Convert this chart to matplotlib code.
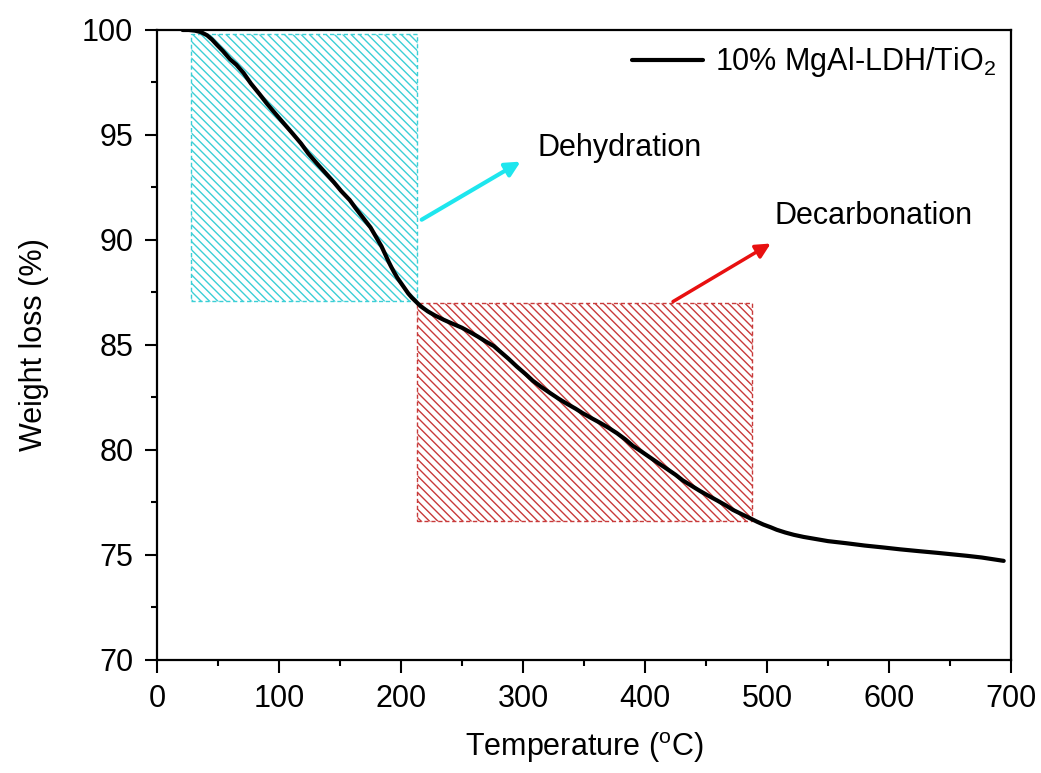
import matplotlib
matplotlib.use("Agg")
import matplotlib.pyplot as plt
from matplotlib.patches import Rectangle
from matplotlib.ticker import MultipleLocator

plt.rcParams["font.family"] = ["Liberation Sans", "DejaVu Sans"]
plt.rcParams["mathtext.default"] = "regular"
plt.rcParams["hatch.linewidth"] = 1.0

# TGA trace, 10% MgAl-LDH/TiO2
temp = [21, 26, 31, 36, 41, 45, 49, 54, 60, 65, 71, 77, 84, 90, 97, 104, 111, 118,
        124, 131, 138, 145, 151, 158, 163, 167, 171, 175, 178, 181, 184, 186, 188,
        190, 192, 194, 197, 200, 203, 206, 209, 212, 216, 222, 228, 235, 242, 250,
        257, 263, 269, 276, 282, 288, 295, 302, 308, 315, 322, 329, 336, 343, 349,
        356, 363, 370, 377, 384, 390, 397, 404, 411, 418, 425, 431, 438, 445, 452,
        459, 466, 472, 479, 486, 492, 497, 503, 508, 515, 522, 530, 540, 550, 565,
        580, 595, 609, 625, 640, 652, 664, 676, 685, 694]
weight = [100.0, 100.0, 99.97, 99.9, 99.75, 99.55, 99.3, 99.0, 98.6, 98.35, 97.95,
          97.45, 96.95, 96.5, 96.02, 95.55, 95.08, 94.6, 94.12, 93.65, 93.2, 92.75,
          92.33, 91.9, 91.5, 91.2, 90.9, 90.6, 90.3, 90.0, 89.7, 89.45, 89.2, 88.95,
          88.72, 88.5, 88.2, 87.95, 87.7, 87.45, 87.25, 87.08, 86.85, 86.6, 86.4,
          86.2, 86.02, 85.82, 85.6, 85.4, 85.18, 84.95, 84.65, 84.35, 83.97, 83.62,
          83.3, 83.0, 82.72, 82.45, 82.2, 81.97, 81.75, 81.52, 81.3, 81.06, 80.8,
          80.5, 80.2, 79.93, 79.65, 79.37, 79.1, 78.82, 78.55, 78.3, 78.05, 77.82,
          77.6, 77.37, 77.15, 76.95, 76.75, 76.58, 76.45, 76.32, 76.2, 76.07, 75.96,
          75.86, 75.76, 75.66, 75.56, 75.45, 75.36, 75.27, 75.18, 75.1, 75.03, 74.96,
          74.88, 74.8, 74.72]

# stage windows: (T start, T end, wt low, wt high)
dehyd = (28, 213, 87.1, 99.8)
decarb = (213, 488, 76.6, 87.0)

fig = plt.figure(figsize=(10.41, 7.73), dpi=100)
ax = fig.add_axes([0.1508, 0.1462, 0.8204, 0.815])

for (t0, t1, w0, w1), col in ((dehyd, "#3ccfd6"), (decarb, "#c83a3a")):
    ax.add_patch(Rectangle((t0, w0), t1 - t0, w1 - w0, facecolor="none",
                           edgecolor=col, hatch="\\\\\\\\", lw=1.0, ls=(0, (3, 2)), zorder=1))

ax.plot(temp, weight, color="black", lw=3.0, zorder=3, solid_capstyle="round",
        label="10% MgAl-LDH/TiO$_2$")

ax.annotate("", xy=(300, 93.8), xytext=(215, 90.9),
            arrowprops=dict(arrowstyle="-|>", color="#1ee6ee", lw=3, mutation_scale=22))
ax.annotate("", xy=(505, 89.9), xytext=(421, 87.0),
            arrowprops=dict(arrowstyle="-|>", color="#e81010", lw=2.5, mutation_scale=22))
ax.text(312, 94.4, "Dehydration", fontsize=22, va="center")
ax.text(506, 91.15, "Decarbonation", fontsize=22, va="center")

ax.set_xlim(0, 700)
ax.set_ylim(70, 100)
ax.xaxis.set_major_locator(MultipleLocator(100))
ax.xaxis.set_minor_locator(MultipleLocator(50))
ax.yaxis.set_major_locator(MultipleLocator(5))
ax.yaxis.set_minor_locator(MultipleLocator(2.5))
ax.tick_params(which="major", direction="out", length=9, width=1.5, labelsize=22, pad=8)
ax.tick_params(which="minor", direction="out", length=4, width=1.5)
for s in ax.spines.values():
    s.set_linewidth(1.6)

ax.set_xlabel("Temperature ($^{o}$C)", fontsize=22, labelpad=12)
ax.set_ylabel("Weight loss (%)", fontsize=22, labelpad=24)

ax.legend(loc="upper right", frameon=False, fontsize=22, handlelength=2.3,
          handletextpad=0.4, borderaxespad=0.1, bbox_to_anchor=(1.0, 1.0))

fig.savefig("out.png", dpi=100)
